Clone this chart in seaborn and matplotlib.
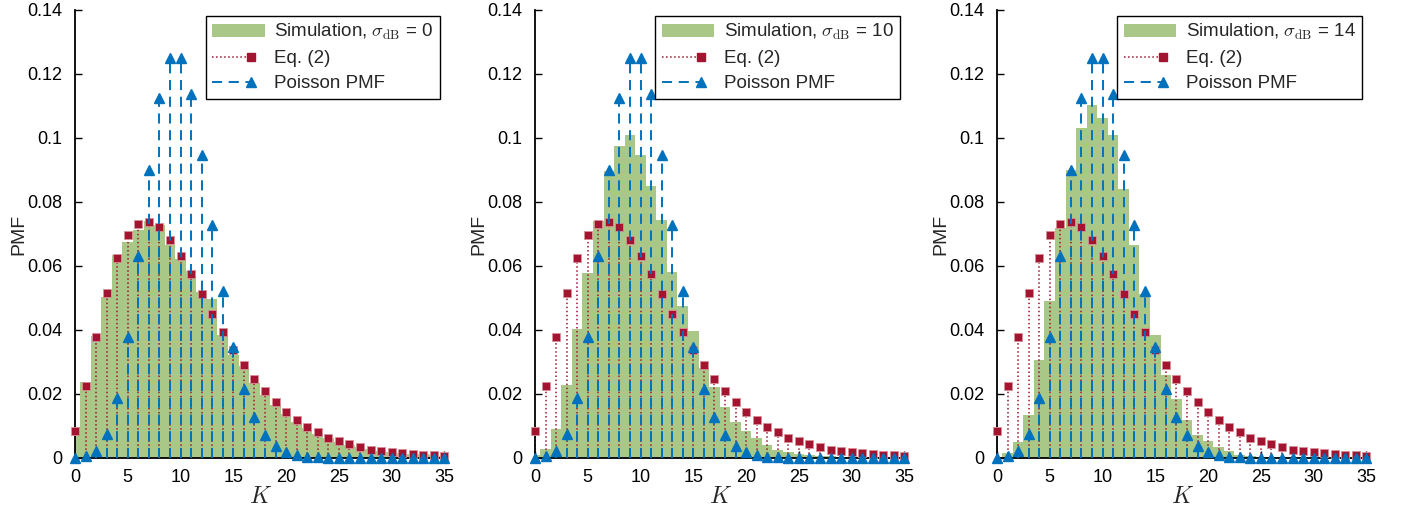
import numpy as np
import seaborn as sns
import matplotlib.pyplot as plt
from matplotlib import ticker
from matplotlib.lines import Line2D
from matplotlib.patches import Patch
from matplotlib.legend_handler import HandlerLine2D

# number of users K, 0..35
k = np.arange(36)
sigma_db = [0, 10, 14]

# simulated PMF (green bars), one list per shadowing std
sim_0 = [0.0096, 0.0239, 0.0380, 0.0502, 0.0634, 0.0676, 0.0712, 0.0741, 0.0727, 0.0665,
         0.0621, 0.0585, 0.0520, 0.0497, 0.0385, 0.0323, 0.0286, 0.0234, 0.0198, 0.0167,
         0.0137, 0.0114, 0.0094, 0.0075, 0.0063, 0.0049, 0.0041, 0.0033, 0.0027, 0.0023,
         0.0019, 0.0016, 0.0013, 0.0011, 0.0009, 0.0007]
sim_10 = [0.0010, 0.0028, 0.0091, 0.0227, 0.0404, 0.0578, 0.0742, 0.0896, 0.0974, 0.1010,
          0.0946, 0.0849, 0.0745, 0.0580, 0.0474, 0.0398, 0.0281, 0.0222, 0.0159, 0.0111,
          0.0083, 0.0064, 0.0042, 0.0026, 0.0018, 0.0012, 0.0009, 0.0007, 0.0005, 0.0004,
          0.0003, 0.0002, 0.0002, 0.0001, 0.0001, 0.0001]
sim_14 = [0.0003, 0.0015, 0.0049, 0.0133, 0.0305, 0.0492, 0.0719, 0.0900, 0.1031, 0.1104,
          0.1062, 0.1010, 0.0842, 0.0667, 0.0512, 0.0385, 0.0260, 0.0185, 0.0120, 0.0071,
          0.0054, 0.0033, 0.0021, 0.0010, 0.0006, 0.0004, 0.0003, 0.0002, 0.0001, 0.0001,
          0.0001, 0.0, 0.0, 0.0, 0.0, 0.0]

# Eq. (2), same in every panel
eq2 = [0.0083, 0.0224, 0.0377, 0.0516, 0.0625, 0.0698, 0.0732, 0.0739, 0.0721, 0.0682,
       0.0632, 0.0575, 0.0513, 0.0451, 0.0395, 0.0338, 0.0291, 0.0247, 0.0208, 0.0174,
       0.0143, 0.0119, 0.0097, 0.0080, 0.0064, 0.0052, 0.0043, 0.0033, 0.0026, 0.0021,
       0.0018, 0.0015, 0.0012, 0.0009, 0.0008, 0.0006]

# Poisson PMF
poisson = [0.0000, 0.0005, 0.0023, 0.0076, 0.0189, 0.0378, 0.0631, 0.0901, 0.1126, 0.1251,
           0.1251, 0.1137, 0.0948, 0.0729, 0.0521, 0.0347, 0.0217, 0.0128, 0.0071, 0.0037,
           0.0019, 0.0009, 0.0004, 0.0002, 0.0001, 0.0, 0.0, 0.0, 0.0, 0.0,
           0.0, 0.0, 0.0, 0.0, 0.0, 0.0]

green = "#a9c888"
red = "#a2142f"
blue = "#0072bd"
dash = (0, (5.2, 3.4))

sns.set_style("ticks")
plt.rcParams["font.family"] = ["Liberation Sans", "DejaVu Sans"]
plt.rcParams["mathtext.fontset"] = "cm"


class EndMarker(HandlerLine2D):
    # shorter line with the marker at its right end (not in the middle)
    def create_artists(self, *args, **kwargs):
        arts = super().create_artists(*args, **kwargs)
        line = arts[0]
        x = line.get_xdata()
        y = line.get_ydata()
        line.set_data(np.linspace(x[0], x[0] + 0.74 * (x[-1] - x[0]), len(x)), y)
        line.set_markevery([len(x) - 1])
        return arts


fig = plt.figure(figsize=(14.05, 5.12), dpi=100)
lefts = [75, 535, 997]

for left, sig, sim in zip(lefts, sigma_db, [sim_0, sim_10, sim_14]):
    ax = fig.add_axes([left / 1405, 1 - 458 / 512, 371 / 1405, 448 / 512])
    sns.barplot(x=k, y=sim, native_scale=True, orient="x", width=1, color=green,
                saturation=1, linewidth=0, ax=ax, zorder=1)
    ax.vlines(k, 0, eq2, colors=red, linestyles=":", linewidth=1.1, zorder=2)
    ax.plot(k, eq2, ls="none", marker="s", ms=5.8, color=red, mec="#d98f98", mew=0.6,
            zorder=3, clip_on=False)
    ax.vlines(k, 0, poisson, colors=blue, linestyles=dash, linewidth=1.4, zorder=4)
    ax.plot(k, poisson, ls="none", marker="^", ms=7, color=blue, zorder=5, clip_on=False)

    ax.set_xlim(0, 35.15)
    ax.set_ylim(0, 0.14)
    ax.set_xticks(range(0, 36, 5))
    ax.set_yticks(np.arange(0, 0.141, 0.02))
    ax.xaxis.set_major_formatter(ticker.FormatStrFormatter("%g"))
    ax.yaxis.set_major_formatter(ticker.FormatStrFormatter("%g"))
    ax.tick_params(direction="in", length=5, width=1, labelsize=13, colors="black")
    ax.tick_params(axis="y", pad=9)
    ax.tick_params(axis="x", pad=8)
    sns.despine(ax=ax)
    for s in ["left", "bottom"]:
        ax.spines[s].set_linewidth(1.3)
        ax.spines[s].set_color("black")
    ax.set_xlabel("$K$", fontsize=17, labelpad=0)
    ax.set_ylabel("PMF", fontsize=14, labelpad=0)

    handles = [Patch(facecolor=green, edgecolor="none"),
               Line2D([], [], color=red, ls=":", lw=1.1, marker="s", ms=5.8),
               Line2D([], [], color=blue, ls=dash, lw=1.4, marker="^", ms=7)]
    labels = [rf"Simulation, $\sigma_{{\mathrm{{dB}}}}$ = {sig}", "Eq. (2)", "Poisson PMF"]
    leg = ax.legend(handles, labels, loc="upper right", numpoints=1,
                    handler_map={handles[1]: EndMarker(), handles[2]: EndMarker()},
                    fancybox=False, edgecolor="black", framealpha=1, fontsize=13.5,
                    handlelength=2.8, handletextpad=0.5, borderaxespad=0.3,
                    labelspacing=0.42, borderpad=0.35)
    leg.get_frame().set_linewidth(1.0)

fig.savefig("out.png", dpi=100)
